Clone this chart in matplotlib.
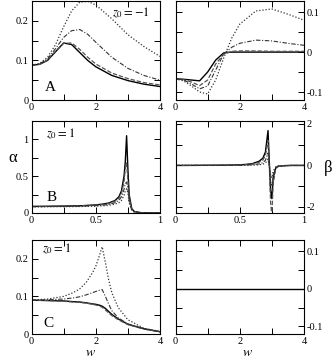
import matplotlib

matplotlib.use("Agg")

import matplotlib.pyplot as plt

plt.rcParams["font.family"] = ["Liberation Serif", "DejaVu Serif"]
plt.rcParams["mathtext.fontset"] = "stix"
plt.rcParams["axes.unicode_minus"] = False

# panel A (z0 = -1), w from 0 to 4
W_A = [0, 0.25, 0.5, 0.75, 1.0, 1.25, 1.5, 1.75, 2.0, 2.5, 3.0, 3.5, 4.0]
ALPHA_A = [
    [0.088, 0.090, 0.100, 0.122, 0.144, 0.140, 0.120, 0.100, 0.084, 0.062, 0.049, 0.040, 0.034],
    [0.088, 0.090, 0.101, 0.124, 0.143, 0.144, 0.128, 0.108, 0.091, 0.068, 0.054, 0.044, 0.038],
    [0.088, 0.091, 0.104, 0.130, 0.158, 0.175, 0.178, 0.166, 0.146, 0.108, 0.080, 0.062, 0.050],
    [0.088, 0.092, 0.108, 0.140, 0.185, 0.225, 0.247, 0.249, 0.240, 0.205, 0.165, 0.135, 0.110],
]
BETA_A = [
    [-0.067, -0.068, -0.070, -0.072, -0.050, -0.020, -0.002, 0.0, 0.0, 0.0, 0.0, 0.0, 0.0],
    [-0.067, -0.069, -0.075, -0.084, -0.070, -0.030, -0.005, 0.002, 0.003, 0.003, 0.002, 0.002, 0.002],
    [-0.067, -0.070, -0.080, -0.092, -0.085, -0.045, -0.005, 0.012, 0.022, 0.030, 0.028, 0.022, 0.017],
    [-0.067, -0.072, -0.085, -0.100, -0.105, -0.070, -0.015, 0.035, 0.070, 0.103, 0.108, 0.095, 0.080],
]

# panel B (z0 = 1), w from 0 to 1
W_B = [0, 0.1, 0.2, 0.3, 0.4, 0.5, 0.55, 0.6, 0.65, 0.68, 0.70, 0.72, 0.73, 0.74, 0.75, 0.76, 0.78, 0.8, 0.85, 0.9, 1.0]
ALPHA_B = [
    [0.090, 0.091, 0.093, 0.096, 0.100, 0.110, 0.120, 0.135, 0.170, 0.220, 0.300, 0.500, 0.700, 1.050, 0.600, 0.250, 0.060, 0.020, 0.005, 0.002, 0.001],
    [0.088, 0.089, 0.091, 0.094, 0.098, 0.107, 0.115, 0.128, 0.160, 0.200, 0.270, 0.420, 0.600, 0.680, 0.450, 0.200, 0.050, 0.018, 0.005, 0.002, 0.001],
    [0.086, 0.087, 0.089, 0.091, 0.094, 0.100, 0.106, 0.115, 0.140, 0.170, 0.220, 0.320, 0.400, 0.420, 0.330, 0.160, 0.045, 0.015, 0.004, 0.002, 0.001],
    [0.084, 0.085, 0.086, 0.087, 0.089, 0.093, 0.097, 0.103, 0.120, 0.140, 0.170, 0.240, 0.300, 0.330, 0.280, 0.140, 0.040, 0.012, 0.004, 0.002, 0.001],
]
BETA_B = [
    [0.0, 0.003, 0.006, 0.010, 0.015, 0.030, 0.050, 0.090, 0.200, 0.350, 0.650, 1.680, 0.200, -1.200, -1.600, -0.600, -0.120, -0.040, -0.010, 0.0, 0.0],
    [0.0, 0.002, 0.004, 0.008, 0.012, 0.025, 0.040, 0.070, 0.150, 0.260, 0.480, 1.200, 0.000, -1.800, -2.400, -0.900, -0.150, -0.050, -0.010, 0.0, 0.0],
    [0.0, 0.001, 0.002, 0.004, 0.006, 0.012, 0.020, 0.035, 0.070, 0.130, 0.250, 0.600, 0.000, -0.800, -1.000, -0.450, -0.100, -0.030, -0.008, 0.0, 0.0],
    [0.0, 0.000, 0.001, 0.002, 0.003, 0.005, 0.008, 0.015, 0.030, 0.060, 0.120, 0.300, 0.000, -0.450, -0.600, -0.280, -0.070, -0.020, -0.005, 0.0, 0.0],
]

# panel C (z0 = 1), w from 0 to 4
W_C = [0, 0.5, 1.0, 1.3, 1.5, 1.7, 1.9, 2.0, 2.1, 2.2, 2.3, 2.4, 2.5, 2.7, 3.0, 3.5, 4.0]
ALPHA_C = [
    [0.090, 0.089, 0.088, 0.086, 0.085, 0.083, 0.080, 0.079, 0.077, 0.074, 0.068, 0.060, 0.052, 0.040, 0.026, 0.014, 0.006],
    [0.090, 0.089, 0.087, 0.085, 0.084, 0.082, 0.079, 0.077, 0.075, 0.071, 0.064, 0.056, 0.049, 0.038, 0.025, 0.013, 0.006],
    [0.090, 0.091, 0.093, 0.096, 0.099, 0.104, 0.110, 0.113, 0.116, 0.118, 0.100, 0.080, 0.062, 0.043, 0.027, 0.013, 0.006],
    [0.090, 0.093, 0.100, 0.110, 0.120, 0.137, 0.163, 0.180, 0.205, 0.232, 0.190, 0.145, 0.110, 0.070, 0.038, 0.015, 0.007],
]
W_C_BETA = [0, 4]
BETA_C = [0.0, 0.0]

LINE_STYLES = [
    dict(color="black", linestyle="-", linewidth=1.0),
    dict(color="#555555", linestyle=(0, (3.5, 1.5)), linewidth=0.9),
    dict(color="#333333", linestyle=(0, (4, 1.5, 1, 1.5)), linewidth=0.8),
    dict(color="#333333", linestyle=(0, (1, 1.5)), linewidth=0.9),
]

TICK_FS = 7.5


def style_axis(ax, xmajor, xminor, ymajor, yminor, right=False):
    ax.set_xticks(xmajor)
    ax.set_xticks(xminor, minor=True)
    ax.set_yticks(ymajor)
    ax.set_yticks(yminor, minor=True)
    ax.tick_params(which="both", direction="in", top=True, right=True, left=True,
                   labelsize=TICK_FS, width=0.7, pad=2)
    ax.tick_params(which="major", length=4)
    ax.tick_params(which="minor", length=4)
    if right:
        ax.tick_params(labelleft=False, labelright=True)
    for sp in ax.spines.values():
        sp.set_linewidth(0.8)


def fmt(v):
    return f"{v:g}"


def plot_set(ax, xs, ys_list):
    for ys, st in zip(ys_list, LINE_STYLES):
        ax.plot(xs, ys, **st)


fig = plt.figure(figsize=(3.35, 3.62), dpi=100)
W, H = 335, 362


def add_axes(x0, y_top, x1, y_bot):
    return fig.add_axes([x0 / W, 1 - y_bot / H, (x1 - x0) / W, (y_bot - y_top) / H])


axA = add_axes(31.5, 1, 160, 100)
axAr = add_axes(175.5, 1, 304, 100)
axB = add_axes(31.5, 121, 160, 213)
axBr = add_axes(175.5, 121, 304, 213)
axC = add_axes(31.5, 240, 160, 334)
axCr = add_axes(175.5, 240, 304, 334)

plot_set(axA, W_A, ALPHA_A)
plot_set(axAr, W_A, BETA_A)
plot_set(axB, W_B, ALPHA_B)
plot_set(axBr, W_B, BETA_B)
plot_set(axC, W_C, ALPHA_C)
axCr.plot(W_C_BETA, BETA_C, **LINE_STYLES[0])

for ax in (axA, axAr, axC, axCr):
    ax.set_xlim(0, 4)
for ax in (axB, axBr):
    ax.set_xlim(0, 1)

axA.set_ylim(0, 0.25)
axC.set_ylim(0, 0.25)
axB.set_ylim(0, 1.25)
axAr.set_ylim(-0.12, 0.128)
axCr.set_ylim(-0.12, 0.13)
axBr.set_ylim(-2.29, 2.14)

style_axis(axA, [0, 2, 4], [1, 3], [0, 0.1, 0.2], [0.05, 0.15])
style_axis(axC, [0, 2, 4], [1, 3], [0, 0.1, 0.2], [0.05, 0.15])
style_axis(axB, [0, 0.5, 1], [0.25, 0.75], [0, 0.5, 1], [0.25, 0.75])
style_axis(axAr, [0, 2, 4], [1, 3], [-0.1, 0, 0.1], [-0.05, 0.05], right=True)
style_axis(axCr, [0, 2, 4], [1, 3], [-0.1, 0, 0.1], [-0.05, 0.05], right=True)
style_axis(axBr, [0, 0.5, 1], [0.25, 0.75], [-2, 0, 2], [-1, 1], right=True)

for ax in (axA, axAr, axB, axBr, axC, axCr):
    ax.set_xticklabels([fmt(v) for v in ax.get_xticks()])
    ax.set_yticklabels([fmt(v) for v in ax.get_yticks()])

axA.text(0.77, 0.88, r"$z_0 = -1$", transform=axA.transAxes, fontsize=9, ha="center", va="center")
axA.text(0.15, 0.13, "A", transform=axA.transAxes, fontsize=11, ha="center", va="center")
axB.text(0.11, 0.86, r"$z_0 = 1$", transform=axB.transAxes, fontsize=9, ha="left", va="center")
axB.text(0.16, 0.17, "B", transform=axB.transAxes, fontsize=11, ha="center", va="center")
axC.text(0.08, 0.91, r"$z_0 = 1$", transform=axC.transAxes, fontsize=9, ha="left", va="center")
axC.text(0.13, 0.11, "C", transform=axC.transAxes, fontsize=11, ha="center", va="center")

fig.text(13 / W, 1 - 158 / H, "α", fontsize=12, ha="center", va="center")
fig.text(328 / W, 1 - 168 / H, "β", fontsize=12, ha="center", va="center")
fig.text(90 / W, 1 - 352 / H, r"$w$", fontsize=10, ha="center", va="center")
fig.text(247 / W, 1 - 352 / H, r"$w$", fontsize=10, ha="center", va="center")

fig.savefig("out.png", dpi=100)
